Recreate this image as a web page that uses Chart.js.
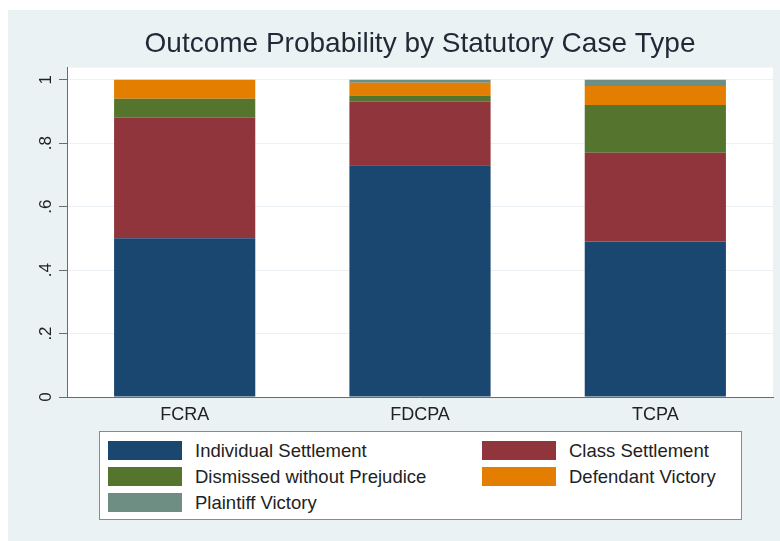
<!DOCTYPE html>
<html>
<head>
<meta charset="utf-8">
<script src="https://cdn.jsdelivr.net/npm/chart.js@4"></script>
<style>
  html, body { margin: 0; padding: 0; background: #fff; }
  body { width: 780px; height: 541px; position: relative; overflow: hidden; font-family: "Liberation Sans", Arial, sans-serif; }
  #panel { position: absolute; left: 8px; top: 10px; right: 0; bottom: 0; background: #eaf2f3; }
  #wrap { position: absolute; left: 0; top: 0; width: 780px; height: 541px; }
  #legend {
    position: absolute; left: 99px; top: 431px; width: 641px; height: 87px;
    background: #fff; border: 1px solid #8a8a8a;
  }
  .item { position: absolute; height: 19px; }
  .item .sw { position: absolute; left: 0; top: 0; width: 74px; height: 19px; }
  .item .tx { position: absolute; left: 87px; top: 0; line-height: 19px; font-size: 18.5px; color: #222; white-space: nowrap; }
</style>
</head>
<body>
<div id="panel"></div>
<div id="wrap"><canvas id="chart" width="780" height="541"></canvas></div>
<div id="legend"></div>
<script>
// case types on the x axis
const categories = ["FCRA", "FDCPA", "TCPA"];

// share of each outcome
const individualSettlement = [0.50, 0.73, 0.49];
const classSettlement      = [0.38, 0.20, 0.28];
const dismissedWithout     = [0.06, 0.02, 0.15];
const defendantVictory     = [0.06, 0.04, 0.06];
const plaintiffVictory     = [0.00, 0.01, 0.02];

const seriesNames  = ["Individual Settlement", "Class Settlement", "Dismissed without Prejudice", "Defendant Victory", "Plaintiff Victory"];
const seriesColors = ["#1a476f", "#90353b", "#55752f", "#e37e00", "#6e8e84"];
const yTicks = [0, 0.2, 0.4, 0.6, 0.8, 1];
const yTickLabels = ["0", ".2", ".4", ".6", ".8", "1"];

const seriesValues = [individualSettlement, classSettlement, dismissedWithout, defendantVictory, plaintiffVictory];

// white plot region behind the bars
const plotBg = {
  id: "plotBg",
  beforeDraw(chart) {
    const a = chart.chartArea;
    chart.ctx.save();
    chart.ctx.fillStyle = "#ffffff";
    chart.ctx.fillRect(a.left, a.top, a.right - a.left, a.bottom - a.top);
    chart.ctx.restore();
  }
};

const chart = new Chart(document.getElementById("chart"), {
  type: "bar",
  data: {
    labels: categories,
    datasets: seriesValues.map((vals, i) => ({
      label: seriesNames[i],
      data: vals,
      backgroundColor: seriesColors[i],
      borderWidth: 0,
      barPercentage: 0.6,
      categoryPercentage: 1.0
    }))
  },
  options: {
    responsive: false,
    animation: false,
    layout: { padding: { left: 0, right: 7, top: 0, bottom: 114 } },
    plugins: {
      legend: { display: false },
      tooltip: { enabled: false },
      title: {
        display: true,
        text: "Outcome Probability by Statutory Case Type",
        fullSize: false,
        color: "#1f2a36",
        font: { family: "Liberation Sans", size: 28, weight: "normal" },
        padding: { top: 27, bottom: 7 }
      }
    },
    scales: {
      x: {
        stacked: true,
        grid: { display: false, drawTicks: false },
        border: { display: true, color: "#6b6b6b", width: 1 },
        ticks: { color: "#222", font: { family: "Liberation Sans", size: 18 }, padding: 7 },
        afterFit: (s) => { s.height = 30; }
      },
      y: {
        stacked: true,
        min: 0,
        max: 1.038,
        afterBuildTicks: (s) => { s.ticks = yTicks.map(v => ({ value: v })); },
        grid: { color: "#eaf0f3", tickColor: "#6b6b6b", tickLength: 8, lineWidth: 1 },
        border: { display: true, color: "#6b6b6b", width: 1 },
        ticks: {
          color: "#222",
          font: { family: "Liberation Sans", size: 17 },
          padding: 6,
          minRotation: 90,
          maxRotation: 90,
          crossAlign: "center",
          callback: (v) => yTickLabels[yTicks.findIndex(t => Math.abs(t - v) < 1e-9)]
        },
        afterFit: (s) => { s.width = 67; }
      }
    }
  },
  plugins: [plotBg]
});

// legend in Stata's two-column row-major order
const legend = document.getElementById("legend");
seriesNames.forEach((name, i) => {
  const row = Math.floor(i / 2), col = i % 2;
  const el = document.createElement("div");
  el.className = "item";
  el.style.left = (8 + col * 374) + "px";
  el.style.top = (9 + row * 26) + "px";
  el.innerHTML = '<div class="sw" style="background:' + seriesColors[i] + '"></div><div class="tx">' + name + '</div>';
  legend.appendChild(el);
});
</script>
</body>
</html>
